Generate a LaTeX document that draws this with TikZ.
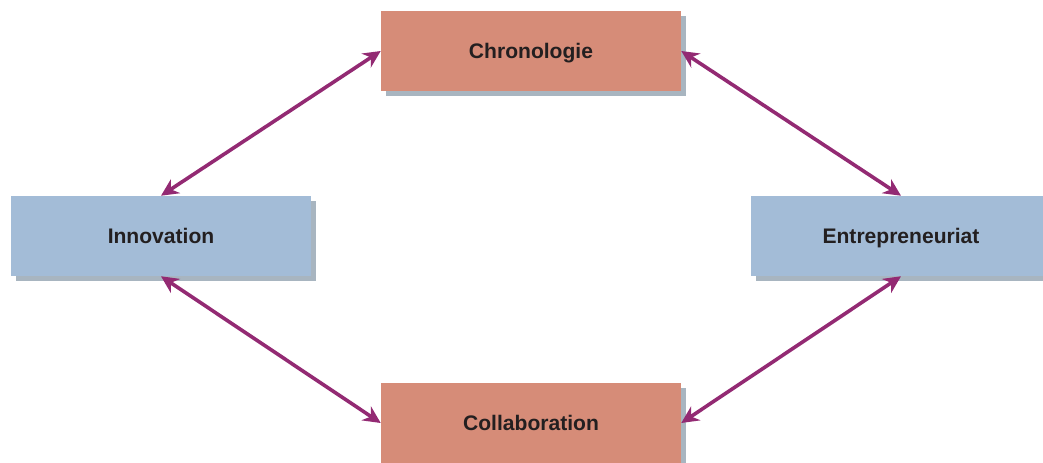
\documentclass[tikz,border=0pt]{standalone}
\usepackage{fontspec}
\setmainfont{Liberation Sans}
\usetikzlibrary{arrows.meta,shadows}
\definecolor{salmon}{HTML}{D68C78}
\definecolor{paleblue}{HTML}{A3BCD7}
\definecolor{shadowgray}{HTML}{A8B5C0}
\definecolor{plum}{HTML}{932A73}
\definecolor{inkgray}{HTML}{231F20}
\tikzset{
	box/.style={minimum width=225pt,minimum height=60pt,inner sep=0pt,text=inkgray,
		text height=11.3pt,text depth=0pt,
		font=\fontsize{15.8}{18}\selectfont\bfseries,
		general shadow={fill=shadowgray,shadow xshift=3.75pt,shadow yshift=-3.75pt}},
	link/.style={draw=plum,line width=2.7pt,{Stealth[length=13pt,width=12.5pt]}-{Stealth[length=13pt,width=12.5pt]}}
}
\begin{document}
\begin{tikzpicture}[x=0.75pt,y=-0.75pt]
		\useasboundingbox (0,0) rectangle (1043,462);
		\clip (0,0) rectangle (1043,462);
		\node[box,fill=salmon] (chrono) at (531,51) {Chronologie};
		\node[box,fill=paleblue] (innov) at (161,236) {Innovation};
		\node[box,fill=paleblue] (entre) at (901,236) {Entrepreneuriat};
		\node[box,fill=salmon] (collab) at (531,423) {Collaboration};
		\draw[link] (chrono.west)--(innov.north);
		\draw[link] (chrono.east)--(entre.north);
		\draw[link] (innov.south)--(collab.west);
		\draw[link] (entre.south)--(collab.east);
	\end{tikzpicture}
\end{document}
